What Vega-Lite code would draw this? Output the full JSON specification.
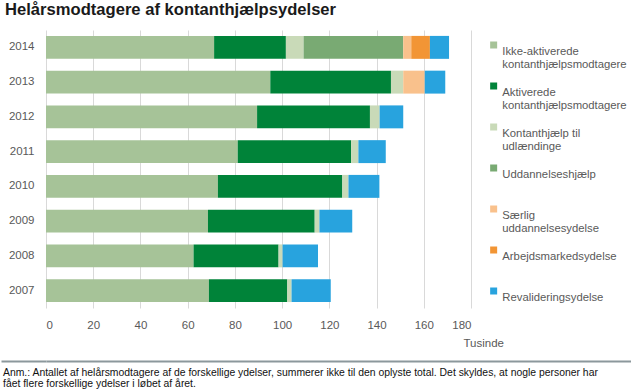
{
  "$schema": "https://vega.github.io/schema/vega-lite/v6.json",
  "background": "white",
  "padding": {"top": 2, "left": 0, "right": 0, "bottom": 0},
  "config": {
    "view": {"stroke": null},
    "font": "Liberation Sans"
  },
  "spacing": 9,
  "vconcat": [
    {
      "width": 425,
      "height": 278,
      "title": {
        "text": "Helårsmodtagere af kontanthjælpsydelser",
        "anchor": "start",
        "frame": "bounds",
        "fontSize": 16.6,
        "fontWeight": "bold",
        "color": "#1a1a1a",
        "offset": 11,
        "dx": 4
      },
      "data": {
        "values": [
          {"year": "2014", "type": "Ikke-aktiverede kontanthjælpsmodtagere", "idx": 1, "value": 71.2},
          {"year": "2014", "type": "Aktiverede kontanthjælpsmodtagere", "idx": 2, "value": 30.4},
          {"year": "2014", "type": "Kontanthjælp til udlændinge", "idx": 3, "value": 7.5},
          {"year": "2014", "type": "Uddannelseshjælp", "idx": 4, "value": 42.2},
          {"year": "2014", "type": "Særlig uddannelsesydelse", "idx": 5, "value": 3.4},
          {"year": "2014", "type": "Arbejdsmarkedsydelse", "idx": 6, "value": 7.9},
          {"year": "2014", "type": "Revalideringsydelse", "idx": 7, "value": 8.1},
          {"year": "2013", "type": "Ikke-aktiverede kontanthjælpsmodtagere", "idx": 1, "value": 95.0},
          {"year": "2013", "type": "Aktiverede kontanthjælpsmodtagere", "idx": 2, "value": 51.1},
          {"year": "2013", "type": "Kontanthjælp til udlændinge", "idx": 3, "value": 5.2},
          {"year": "2013", "type": "Særlig uddannelsesydelse", "idx": 5, "value": 9.1},
          {"year": "2013", "type": "Revalideringsydelse", "idx": 7, "value": 8.7},
          {"year": "2012", "type": "Ikke-aktiverede kontanthjælpsmodtagere", "idx": 1, "value": 89.4},
          {"year": "2012", "type": "Aktiverede kontanthjælpsmodtagere", "idx": 2, "value": 47.8},
          {"year": "2012", "type": "Kontanthjælp til udlændinge", "idx": 3, "value": 4.1},
          {"year": "2012", "type": "Revalideringsydelse", "idx": 7, "value": 10.0},
          {"year": "2011", "type": "Ikke-aktiverede kontanthjælpsmodtagere", "idx": 1, "value": 81.2},
          {"year": "2011", "type": "Aktiverede kontanthjælpsmodtagere", "idx": 2, "value": 48.0},
          {"year": "2011", "type": "Kontanthjælp til udlændinge", "idx": 3, "value": 3.1},
          {"year": "2011", "type": "Revalideringsydelse", "idx": 7, "value": 11.6},
          {"year": "2010", "type": "Ikke-aktiverede kontanthjælpsmodtagere", "idx": 1, "value": 72.8},
          {"year": "2010", "type": "Aktiverede kontanthjælpsmodtagere", "idx": 2, "value": 52.7},
          {"year": "2010", "type": "Kontanthjælp til udlændinge", "idx": 3, "value": 2.6},
          {"year": "2010", "type": "Revalideringsydelse", "idx": 7, "value": 13.1},
          {"year": "2009", "type": "Ikke-aktiverede kontanthjælpsmodtagere", "idx": 1, "value": 68.6},
          {"year": "2009", "type": "Aktiverede kontanthjælpsmodtagere", "idx": 2, "value": 45.2},
          {"year": "2009", "type": "Kontanthjælp til udlændinge", "idx": 3, "value": 2.0},
          {"year": "2009", "type": "Revalideringsydelse", "idx": 7, "value": 13.9},
          {"year": "2008", "type": "Ikke-aktiverede kontanthjælpsmodtagere", "idx": 1, "value": 62.5},
          {"year": "2008", "type": "Aktiverede kontanthjælpsmodtagere", "idx": 2, "value": 36.0},
          {"year": "2008", "type": "Kontanthjælp til udlændinge", "idx": 3, "value": 1.7},
          {"year": "2008", "type": "Revalideringsydelse", "idx": 7, "value": 15.0},
          {"year": "2007", "type": "Ikke-aktiverede kontanthjælpsmodtagere", "idx": 1, "value": 69.0},
          {"year": "2007", "type": "Aktiverede kontanthjælpsmodtagere", "idx": 2, "value": 33.2},
          {"year": "2007", "type": "Kontanthjælp til udlændinge", "idx": 3, "value": 1.8},
          {"year": "2007", "type": "Revalideringsydelse", "idx": 7, "value": 16.6}
        ]
      },
      "mark": {"type": "bar"},
      "encoding": {
        "y": {
          "field": "year",
          "type": "ordinal",
          "sort": "descending",
          "scale": {"paddingInner": 0.34, "paddingOuter": 0.17},
          "axis": {
            "title": " ",
            "titleAngle": 0,
            "titleX": -45,
            "titleY": 100,
            "titleAlign": "left",
            "titleBaseline": "top",
            "titleFontSize": 8,
            "ticks": false,
            "domain": false,
            "labelPadding": 12,
            "labelFontSize": 11.5,
            "labelColor": "#595959"
          }
        },
        "x": {
          "field": "value",
          "type": "quantitative",
          "stack": "zero",
          "scale": {"domain": [0, 180], "nice": false},
          "axis": {
            "values": [0, 20, 40, 60, 80, 100, 120, 140, 160, 180],
            "title": "Tusinde",
            "titleX": 417,
            "titleY": 35,
            "titleAlign": "left",
            "titleBaseline": "middle",
            "titleFontSize": 11.5,
            "titleFontWeight": "normal",
            "titleColor": "#595959",
            "ticks": false,
            "domain": false,
            "labelPadding": 11,
            "labelFontSize": 11.5,
            "labelColor": "#595959",
            "gridColor": "#d9d9d9",
            "gridWidth": 1
          }
        },
        "color": {
          "field": "type",
          "type": "nominal",
          "scale": {
            "domain": [
              "Ikke-aktiverede kontanthjælpsmodtagere",
              "Aktiverede kontanthjælpsmodtagere",
              "Kontanthjælp til udlændinge",
              "Uddannelseshjælp",
              "Særlig uddannelsesydelse",
              "Arbejdsmarkedsydelse",
              "Revalideringsydelse"
            ],
            "range": ["#a6c398", "#008339", "#c9dab8", "#79aa73", "#f9c18c", "#f29535", "#28a3de"]
          },
          "legend": {
            "title": null,
            "orient": "none",
            "legendX": 442,
            "legendY": 16,
            "padding": 0,
            "symbolType": "M-1,-2.9H1V-0.9H-1Z",
            "symbolSize": 49,
            "symbolStrokeWidth": 0,
            "labelFontSize": 11.3,
            "labelColor": "#595959",
            "labelOffset": 3,
            "labelLimit": 200,
            "rowPadding": 11,
            "labelExpr": "datum.label == 'Kontanthjælp til udlændinge' ? ['Kontanthjælp til', 'udlændinge'] : indexof(datum.label, ' ') > 0 ? split(datum.label, ' ') : [datum.label, '']"
          }
        },
        "order": {"field": "idx", "type": "quantitative"}
      }
    },
    {
      "width": 585,
      "height": 2,
      "title": {
        "text": [
          "Anm.: Antallet af helårsmodtagere af de forskellige ydelser, summerer ikke til den oplyste total. Det skyldes, at nogle personer har",
          "fået flere forskellige ydelser i løbet af året."
        ],
        "orient": "bottom",
        "anchor": "start",
        "frame": "bounds",
        "baseline": "top",
        "fontSize": 10.4,
        "fontWeight": "normal",
        "color": "#111111",
        "lineHeight": 11.5,
        "offset": 4,
        "dx": 3
      },
      "data": {"values": [{"v": 0.5}]},
      "mark": {"type": "point", "opacity": 0},
      "encoding": {
        "y": {
          "field": "v",
          "type": "quantitative",
          "scale": {"domain": [0, 1]},
          "axis": {
            "title": null,
            "values": [0.5],
            "labels": false,
            "domain": false,
            "ticks": true,
            "tickSize": 45,
            "tickWidth": 2,
            "tickColor": "#8c989c",
            "grid": true,
            "gridColor": "#8c989c",
            "gridWidth": 2,
            "minExtent": 45,
            "maxExtent": 45
          }
        }
      }
    }
  ]
}
